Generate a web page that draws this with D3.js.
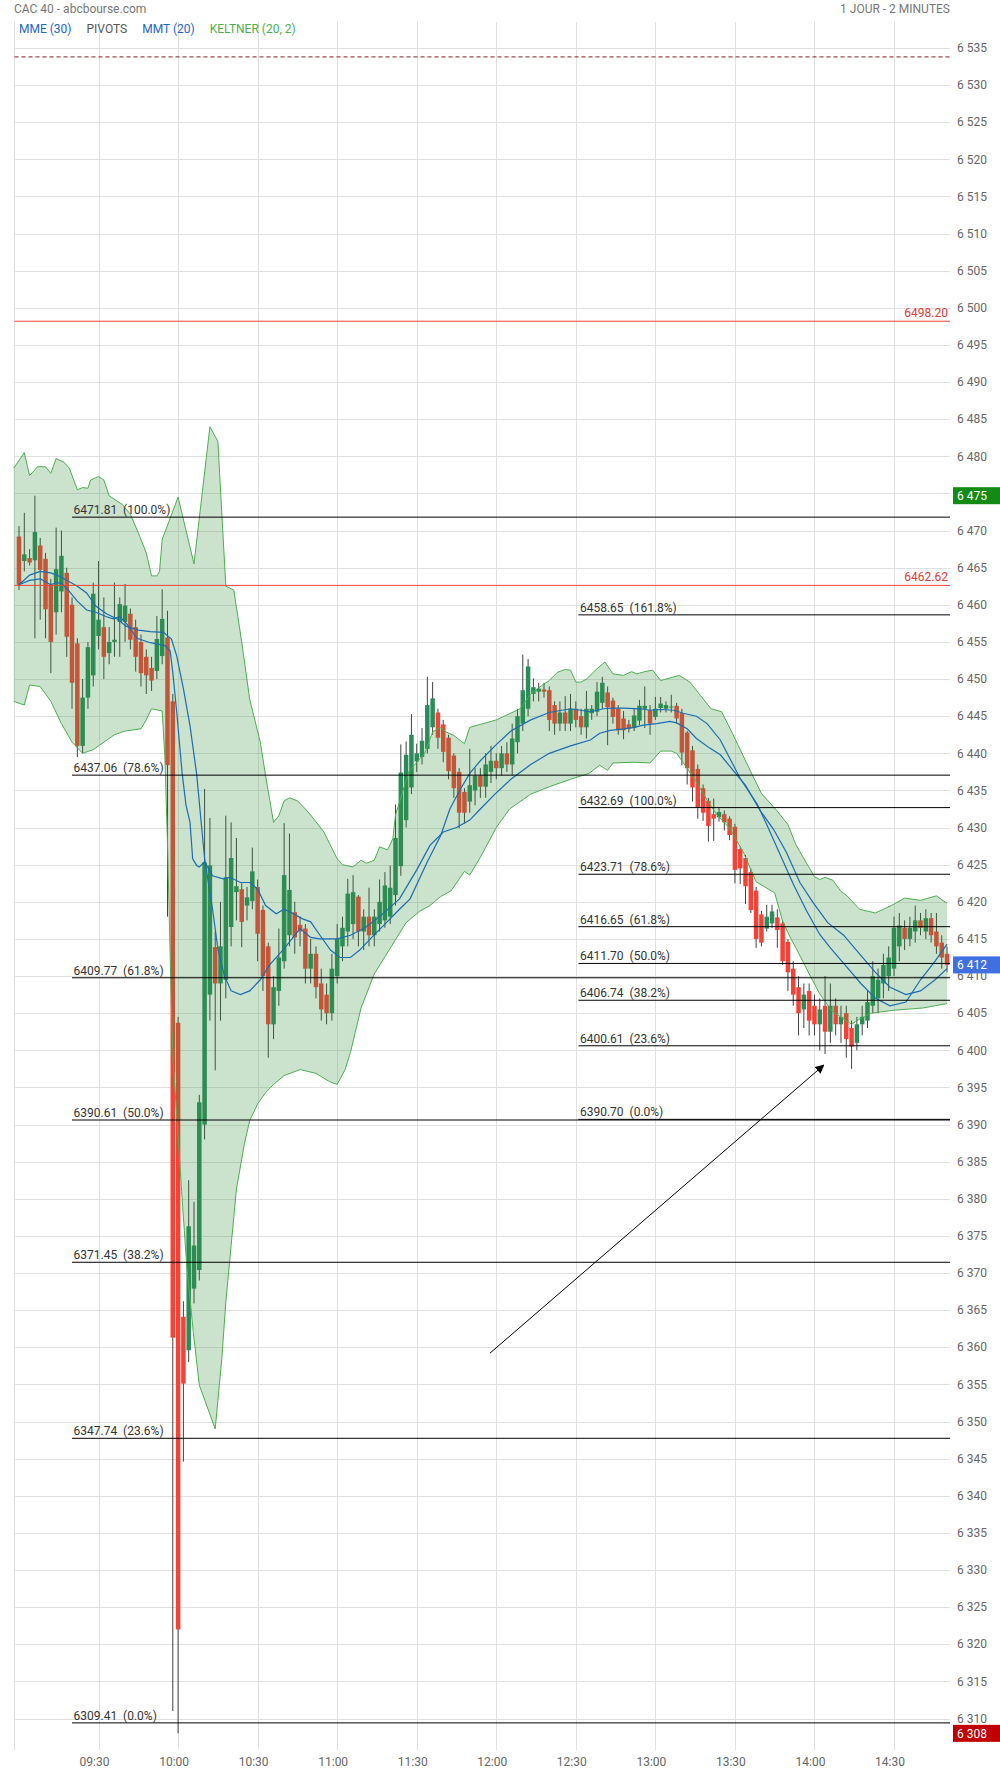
<!DOCTYPE html>
<html><head><meta charset="utf-8">
<script src="https://cdn.jsdelivr.net/npm/d3@7"></script>
<style>
body{margin:0;background:#fff;}
svg{display:block;font-family:Roboto,"Noto Sans",sans-serif;}
</style>
</head><body>
<svg id="c" width="1000" height="1774"></svg>
<script>
// ---------- DATA ----------
const title = "CAC 40 - abcbourse.com";
const period = "1 JOUR - 2 MINUTES";
const legendItems = [["MME (30)","#1e66c8"],["PIVOTS","#555555"],["MMT (20)","#1e66c8"],["KELTNER (20, 2)","#4caf50"]];
const xTickLabels = ["09:30","10:00","10:30","11:00","11:30","12:00","12:30","13:00","13:30","14:00","14:30"];
const yTicks = [6310,6315,6320,6325,6330,6335,6340,6345,6350,6355,6360,6365,6370,6375,6380,6385,6390,6395,6400,6405,6410,6415,6420,6425,6430,6435,6440,6445,6450,6455,6460,6465,6470,6475,6480,6485,6490,6495,6500,6505,6510,6515,6520,6525,6530,6535];

// time, open, high, low, close
const ohlc = [
["09:00",6469.2,6470.6,6462.0,6462.7],["09:02",6465.9,6472.4,6464.5,6466.8],["09:04",6466.3,6467.5,6465.3,6465.7],
["09:06",6466.0,6474.7,6455.5,6469.8],["09:08",6468.0,6469.0,6458.0,6464.7],["09:10",6466.2,6467.0,6455.5,6459.4],
["09:12",6462.7,6463.5,6450.8,6455.0],["09:14",6459.0,6470.4,6456.0,6464.8],["09:16",6461.8,6470.0,6459.0,6466.6],
["09:18",6464.3,6465.0,6453.0,6455.7],["09:20",6460.0,6461.0,6446.0,6449.5],["09:22",6454.8,6455.5,6439.5,6441.0],
["09:24",6441.0,6450.0,6440.0,6447.5],["09:26",6447.5,6455.0,6446.0,6454.3],["09:28",6450.5,6463.0,6449.0,6461.5],
["09:30",6455.8,6465.9,6454.0,6458.0],["09:32",6457.0,6461.0,6450.0,6453.0],["09:34",6453.5,6457.0,6452.0,6455.0],
["09:36",6455.0,6463.0,6453.0,6455.3],["09:38",6457.7,6461.0,6453.0,6460.1],["09:40",6457.7,6462.8,6455.0,6459.9],
["09:42",6458.8,6459.5,6454.0,6455.3],["09:44",6457.0,6458.0,6451.0,6453.0],["09:46",6455.0,6456.0,6449.0,6450.8],
["09:48",6453.0,6454.0,6448.0,6450.5],["09:50",6451.5,6453.0,6448.4,6449.8],["09:52",6451.1,6458.5,6450.0,6455.4],
["09:54",6453.1,6462.1,6452.0,6458.1],["09:56",6455.6,6459.2,6418.0,6438.4],["09:58",6447.0,6448.0,6311.0,6361.3],
["10:00",6403.7,6404.5,6308.0,6322.0],["10:02",6364.1,6366.2,6344.6,6355.1],["10:04",6359.6,6382.5,6358.0,6376.3],
["10:06",6367.9,6379.6,6365.9,6373.7],["10:08",6370.4,6394.0,6369.0,6393.0],["10:10",6390.0,6435.2,6388.0,6425.3],
["10:12",6407.5,6431.3,6404.0,6424.9],["10:14",6413.9,6416.0,6397.3,6409.0],["10:16",6409.0,6420.0,6404.0,6414.0],
["10:18",6409.5,6431.6,6407.0,6423.3],["10:20",6416.6,6430.7,6414.0,6425.9],["10:22",6421.3,6428.6,6417.5,6422.1],
["10:24",6421.7,6422.5,6413.9,6417.3],["10:26",6419.5,6422.0,6417.5,6420.6],["10:28",6420.1,6427.3,6419.0,6424.1],
["10:30",6422.0,6423.0,6412.0,6415.7],["10:32",6418.9,6419.5,6408.0,6410.0],["10:34",6414.0,6414.5,6399.0,6403.5],
["10:36",6403.5,6410.0,6401.5,6408.5],["10:38",6408.0,6416.4,6406.0,6412.5],["10:40",6412.0,6430.6,6411.0,6423.6],
["10:42",6415.5,6429.2,6414.0,6421.6],["10:44",6418.6,6420.0,6413.0,6415.2],["10:46",6416.9,6418.0,6414.0,6416.0],
["10:48",6416.4,6417.0,6409.0,6411.0],["10:50",6411.0,6415.0,6409.0,6413.0],["10:52",6413.0,6414.0,6407.0,6408.5],
["10:54",6409.0,6411.0,6404.0,6405.5],["10:56",6407.5,6409.0,6403.5,6405.0],["10:58",6405.0,6413.0,6404.0,6411.0],
["11:00",6410.0,6417.0,6409.0,6415.0],["11:02",6414.0,6418.0,6412.0,6416.5],["11:04",6416.0,6423.1,6414.0,6421.1],
["11:06",6417.0,6423.6,6415.0,6421.3],["11:08",6420.7,6420.9,6414.0,6416.0],["11:10",6416.0,6419.0,6413.5,6418.0],
["11:12",6418.0,6421.9,6414.0,6415.5],["11:14",6415.5,6419.0,6414.0,6418.0],["11:16",6417.0,6423.0,6416.0,6420.0],
["11:18",6417.5,6424.0,6416.5,6422.2],["11:20",6418.0,6424.9,6417.0,6421.9],["11:22",6420.9,6433.1,6419.5,6428.6],
["11:24",6424.8,6441.2,6423.5,6437.4],["11:26",6431.0,6441.6,6430.0,6439.8],["11:28",6435.4,6445.3,6434.5,6442.5],
["11:30",6438.9,6441.3,6437.5,6440.0],["11:32",6439.5,6443.4,6438.5,6441.7],["11:34",6440.6,6450.3,6440.0,6446.5],
["11:36",6443.5,6449.6,6442.5,6447.4],["11:38",6445.5,6446.0,6440.6,6442.1],["11:40",6443.9,6444.5,6438.8,6440.2],
["11:42",6442.1,6442.5,6436.5,6437.6],["11:44",6439.7,6440.0,6434.0,6435.3],["11:46",6437.5,6438.0,6429.9,6432.0],
["11:48",6434.8,6435.3,6430.5,6432.0],["11:50",6433.5,6440.6,6432.0,6435.7],["11:52",6435.0,6438.0,6433.0,6437.0],
["11:54",6437.0,6438.0,6434.0,6435.5],["11:56",6435.5,6440.0,6434.0,6438.5],["11:58",6437.5,6441.0,6436.0,6439.0],
["12:00",6439.0,6440.0,6436.5,6438.0],["12:02",6438.0,6441.0,6437.0,6440.0],["12:04",6440.0,6441.5,6437.5,6438.5],
["12:06",6438.5,6444.0,6437.0,6442.0],["12:08",6441.5,6446.0,6440.0,6445.0],["12:10",6444.0,6453.3,6443.0,6448.5],
["12:12",6446.0,6452.7,6445.0,6451.7],["12:14",6448.0,6450.1,6447.0,6448.9],["12:16",6448.3,6449.5,6447.0,6448.7],
["12:18",6448.6,6449.5,6447.5,6448.3],["12:20",6448.5,6449.0,6443.0,6444.5],["12:22",6446.5,6447.0,6442.5,6444.0],
["12:24",6444.0,6447.0,6443.0,6445.5],["12:26",6445.5,6447.7,6443.0,6444.0],["12:28",6444.0,6448.0,6443.0,6446.0],
["12:30",6446.0,6447.0,6443.5,6444.5],["12:32",6445.0,6446.0,6442.5,6443.5],["12:34",6443.5,6448.4,6442.0,6446.0],
["12:36",6445.4,6446.5,6444.5,6446.0],["12:38",6445.6,6449.6,6445.0,6448.3],["12:40",6446.8,6450.3,6446.0,6449.5],
["12:42",6448.2,6449.0,6441.1,6446.2],["12:44",6447.1,6447.5,6444.0,6444.9],["12:46",6446.0,6446.5,6442.5,6443.1],
["12:48",6444.7,6445.7,6441.9,6443.1],["12:50",6443.9,6444.5,6442.8,6443.3],["12:52",6443.4,6446.0,6443.0,6445.1],
["12:54",6444.4,6447.2,6443.8,6446.4],["12:56",6446.0,6449.0,6443.4,6446.4],["12:58",6445.8,6446.5,6442.5,6444.0],
["13:00",6444.9,6447.6,6444.5,6446.0],["13:02",6446.1,6447.6,6445.5,6446.7],["13:04",6446.0,6447.0,6445.5,6446.5],
["13:06",6446.2,6447.9,6445.5,6446.3],["13:08",6446.4,6446.8,6444.0,6444.7],["13:10",6445.4,6446.0,6438.4,6440.1],
["13:12",6442.8,6443.0,6435.8,6438.0],["13:14",6440.4,6441.0,6433.5,6435.4],["13:16",6437.9,6438.5,6431.2,6432.7],
["13:18",6435.3,6435.8,6430.9,6432.0],["13:20",6433.6,6434.0,6428.1,6430.2],["13:22",6431.8,6433.9,6428.2,6431.2],
["13:24",6431.4,6432.7,6430.8,6432.1],["13:26",6431.8,6432.3,6429.6,6430.7],["13:28",6431.2,6431.5,6428.3,6429.0],
["13:30",6430.1,6430.5,6422.5,6424.3],["13:32",6427.1,6427.5,6422.4,6424.5],["13:34",6425.9,6426.3,6419.7,6422.1],
["13:36",6424.0,6424.5,6418.5,6418.9],["13:38",6421.5,6422.0,6413.8,6415.0],["13:40",6418.3,6418.8,6414.0,6414.5],
["13:42",6416.4,6419.6,6416.0,6418.0],["13:44",6417.1,6419.6,6416.5,6418.7],["13:46",6417.9,6419.0,6413.8,6416.2],
["13:48",6417.1,6417.5,6411.5,6412.0],["13:50",6414.6,6415.0,6408.0,6410.5],["13:52",6411.0,6412.0,6406.0,6407.5],
["13:54",6408.5,6410.0,6402.0,6405.0],["13:56",6405.5,6409.0,6403.0,6407.5],["13:58",6408.0,6409.0,6402.0,6404.0],
["14:00",6406.0,6407.5,6402.0,6403.5],["14:02",6403.5,6407.0,6400.0,6405.5],["14:04",6406.0,6410.0,6399.5,6402.5],
["14:06",6402.5,6409.0,6401.0,6406.0],["14:08",6406.0,6407.0,6402.0,6403.5],["14:10",6403.5,6406.0,6401.0,6404.5],
["14:12",6405.0,6406.0,6399.0,6401.5],["14:14",6403.0,6404.0,6397.5,6400.5],["14:16",6401.0,6404.5,6400.0,6403.5],
["14:18",6403.5,6406.0,6402.0,6404.5],["14:20",6404.0,6408.0,6403.0,6406.5],["14:22",6406.0,6412.0,6405.0,6410.0],
["14:24",6407.0,6411.0,6405.0,6409.5],["14:26",6409.0,6413.0,6407.0,6411.5],["14:28",6410.0,6414.0,6408.0,6412.5],
["14:30",6411.0,6418.0,6410.0,6416.5],["14:32",6414.0,6418.5,6412.0,6416.8],["14:34",6416.5,6417.5,6413.5,6415.0],
["14:36",6415.0,6418.0,6414.0,6416.5],["14:38",6416.0,6419.5,6414.5,6417.5],["14:40",6417.5,6418.5,6415.5,6416.5],
["14:42",6416.0,6419.0,6415.0,6417.8],["14:44",6417.8,6418.5,6414.5,6415.5],["14:46",6416.0,6418.5,6413.0,6414.0],
["14:48",6414.5,6415.5,6411.0,6412.5],["14:50",6413.0,6414.0,6410.5,6411.5]
];

const kelUpper = [
["08:58",6478.4],["09:02",6480.5],["09:04",6477.4],["09:07",6478.6],["09:10",6478.6],["09:12",6477.7],["09:14",6479.7],
["09:17",6479.2],["09:19",6478.4],["09:22",6475.5],["09:24",6475.8],["09:26",6475.7],["09:27",6476.8],["09:30",6477.3],
["09:32",6476.8],["09:34",6474.7],["09:39",6473.5],["09:42",6472.2],["09:45",6469.7],["09:48",6467.0],["09:50",6463.9],
["09:52",6463.9],["09:53",6464.5],["09:54",6468.8],["10:00",6474.5],["10:06",6465.5],["10:12",6484.0],["10:15",6482.0],
["10:18",6462.5],["10:21",6462.0],["10:24",6455.0],["10:27",6447.3],["10:31",6441.5],["10:33",6437.0],["10:36",6430.7],
["10:38",6431.6],["10:40",6433.6],["10:42",6434.0],["10:45",6433.6],["10:48",6432.5],["10:50",6431.7],["10:55",6429.4],
["11:00",6425.8],["11:02",6425.0],["11:06",6424.7],["11:09",6425.6],["11:11",6425.2],["11:14",6425.6],["11:16",6427.4],
["11:19",6427.0],["11:21",6428.5],["11:22",6431.7],["11:25",6435.2],["11:27",6437.5],["11:30",6438.8],["11:33",6440.0],
["11:36",6442.9],["11:39",6443.5],["11:41",6442.9],["11:44",6442.4],["11:48",6441.3],["11:50",6443.5],["12:00",6444.5],
["12:09",6446.0],["12:13",6448.0],["12:17",6449.1],["12:20",6449.8],["12:23",6450.9],["12:26",6451.3],["12:28",6451.2],
["12:30",6449.6],["12:32",6449.6],["12:34",6450.0],["12:38",6451.4],["12:41",6452.3],["12:44",6450.7],["12:48",6450.5],
["12:51",6451.0],["12:53",6450.7],["12:56",6451.0],["12:59",6451.2],["13:02",6449.8],["13:04",6450.0],["13:09",6450.5],
["13:13",6449.6],["13:17",6447.8],["13:21",6446.0],["13:25",6445.6],["13:30",6442.0],["13:36",6437.5],["13:40",6434.6],
["13:46",6432.2],["13:50",6430.4],["13:53",6427.7],["13:57",6425.2],["14:00",6423.4],["14:02",6423.0],["14:04",6423.3],
["14:07",6422.9],["14:10",6421.4],["14:12",6420.9],["14:17",6419.0],["14:23",6418.5],["14:29",6419.5],["14:34",6420.5],
["14:40",6420.2],["14:46",6420.8],["14:50",6419.8]
];

const kelLower = [
["08:58",6447.0],["09:02",6446.5],["09:04",6449.2],["09:08",6449.0],["09:12",6447.0],["09:16",6444.0],["09:20",6441.5],
["09:24",6440.0],["09:28",6440.5],["09:32",6441.5],["09:36",6442.5],["09:40",6443.0],["09:46",6443.3],["09:48",6444.5],
["09:50",6446.0],["09:54",6445.7],["09:55",6439.7],["09:56",6428.0],["09:57:36",6404.0],["09:58:12",6398.0],
["09:59:30",6391.2],["10:01:20",6381.0],["10:03:15",6371.0],["10:05:45",6362.0],["10:08",6354.9],["10:14",6349.0],
["10:16:30",6358.5],["10:18",6366.1],["10:20",6373.7],["10:22",6381.3],["10:25",6387.4],["10:27",6390.5],["10:30",6392.8],
["10:33",6394.3],["10:36",6395.4],["10:40",6396.6],["10:46",6397.4],["10:52",6396.9],["10:57",6395.8],["11:00",6395.4],
["11:03",6397.4],["11:05",6399.7],["11:09",6405.7],["11:14",6410.3],["11:18",6412.6],["11:22",6414.9],["11:26",6417.2],
["11:31",6418.7],["11:35",6419.5],["11:39",6420.7],["11:43",6421.5],["11:48",6424.1],["11:50",6423.6],["11:54",6426.0],
["12:00",6430.0],["12:05",6432.5],["12:13",6434.5],["12:20",6435.5],["12:28",6436.5],["12:35",6437.3],["12:39",6438.4],
["12:42",6437.7],["12:44",6438.7],["12:52",6438.8],["12:58",6438.7],["13:02",6440.3],["13:06",6440.3],["13:08",6440.0],
["13:12",6438.0],["13:16",6435.8],["13:19:30",6433.7],["13:23",6431.8],["13:28",6429.9],["13:33",6426.8],["13:38",6422.7],
["13:45",6421.2],["13:48",6417.4],["13:51",6415.1],["13:53",6413.8],["13:58",6410.3],["14:02",6407.6],["14:06:30",6405.3],
["14:11",6404.2],["14:14",6403.5],["14:17",6404.2],["14:21:30",6405.0],["14:30",6405.4],["14:41",6405.7],["14:50",6406.3]
];

const mme30 = [
["09:00",6462.7],["09:04",6463.3],["09:08",6463.5],["09:12",6462.7],["09:14",6463.0],["09:16",6462.9],["09:18:30",6462.0],
["09:22",6460.5],["09:25:30",6459.3],["09:29",6459.0],["09:33",6458.4],["09:35:30",6458.1],["09:38",6458.4],["09:40:30",6457.5],
["09:44:30",6455.5],["09:49:30",6454.9],["09:55",6454.5],["09:57",6453.8],["09:58",6450.9],["09:59:30",6445.5],
["10:01:30",6437.4],["10:03",6433.0],["10:04:30",6430.7],["10:05:30",6425.8],["10:07",6424.9],["10:08",6424.7],
["10:10",6425.4],["10:13",6423.5],["10:17",6423.1],["10:19:30",6423.3],["10:23:30",6422.6],["10:27",6422.6],["10:30",6421.7],
["10:33",6419.5],["10:37",6418.4],["10:40",6419.0],["10:43:30",6418.4],["10:47",6417.7],["10:50",6417.3],["10:53:30",6415.5],
["10:57:30",6413.5],["11:01",6412.5],["11:05",6412.5],["11:08:30",6413.5],["11:12:30",6415.0],["11:18",6417.0],
["11:23:30",6419.0],["11:27:30",6420.4],["11:34",6425.4],["11:39",6428.9],["11:42:30",6432.5],["11:46:30",6435.2],
["11:50",6437.3],["11:54",6439.0],["11:59:30",6441.0],["12:05:30",6443.0],["12:13",6444.5],["12:20",6445.5],["12:28",6446.0],
["12:35:30",6445.6],["12:40:30",6446.0],["12:44",6446.1],["12:48",6446.1],["12:54",6446.0],["12:58",6445.8],["13:02",6445.9],
["13:07",6445.8],["13:10:30",6445.4],["13:15:30",6445.0],["13:19:30",6444.0],["13:24:30",6441.8],["13:32",6436.6],
["13:38:30",6433.1],["13:42",6430.4],["13:47",6426.4],["13:52",6422.4],["13:57",6418.8],["14:02",6415.6],["14:06",6413.8],
["14:11:30",6411.5],["14:17:30",6409.0],["14:23",6407.0],["14:28:30",6406.0],["14:34:30",6406.5],["14:40",6409.5],
["14:45:30",6412.0],["14:50",6414.3]
];

const mmt20 = [
["09:00",6462.7],["09:04",6464.0],["09:08",6464.5],["09:12",6464.3],["09:15:30",6463.8],["09:18:30",6463.2],["09:22",6462.5],
["09:25:30",6461.6],["09:29",6459.8],["09:33",6458.8],["09:37",6458.1],["09:40:30",6457.1],["09:45",6456.6],["09:49:30",6456.4],
["09:54:30",6456.3],["09:57:30",6455.4],["09:59:30",6453.1],["10:02",6448.7],["10:04:30",6443.7],["10:07",6437.2],
["10:10",6425.8],["10:13",6419.0],["10:15",6413.7],["10:17:30",6410.0],["10:20",6408.0],["10:23:30",6407.5],["10:27",6408.0],
["10:31",6409.5],["10:34:30",6411.5],["10:40",6413.7],["10:46",6416.4],["10:50",6415.2],["10:53:30",6415.0],["11:00",6415.0],
["11:05",6415.5],["11:10:30",6416.5],["11:16",6418.0],["11:23:30",6420.4],["11:30",6424.3],["11:35",6427.6],["11:40",6429.4],
["11:45",6430.0],["11:50",6431.0],["11:54",6432.5],["11:59:30",6434.5],["12:05:30",6436.5],["12:13",6438.5],["12:20",6440.0],
["12:28",6441.0],["12:35:30",6441.8],["12:39",6442.7],["12:43",6443.1],["12:48",6443.3],["12:52",6443.5],["12:55:30",6443.8],
["13:00:30",6444.0],["13:05:30",6444.3],["13:08",6444.1],["13:12",6443.3],["13:15:30",6442.0],["13:20:30",6440.7],
["13:24:30",6439.8],["13:34",6435.7],["13:39:30",6432.3],["13:44:30",6429.8],["13:49:30",6426.6],["13:54:30",6422.6],
["13:59:30",6419.9],["14:05",6417.2],["14:11",6415.5],["14:17",6413.0],["14:23",6410.5],["14:28:30",6408.5],["14:34:30",6407.5],
["14:40",6408.0],["14:45:30",6409.5],["14:50",6411.0]
];

const pivotLevels = [6498.20, 6462.62];
const pivotDashed = [6533.8];
const fibLeftStart = "09:20";
const fibLeft = [[6471.81,"100.0%"],[6437.06,"78.6%"],[6409.77,"61.8%"],[6390.61,"50.0%"],[6371.45,"38.2%"],[6347.74,"23.6%"],[6309.41,"0.0%"]];
const fibRightStart = "12:31";
const fibRight = [[6458.65,"161.8%"],[6432.69,"100.0%"],[6423.71,"78.6%"],[6416.65,"61.8%"],[6411.70,"50.0%"],[6406.74,"38.2%"],[6400.61,"23.6%"],[6390.70,"0.0%"]];
const arrowFrom = ["11:57:36", 6359.2];
const arrowTo = ["14:03:30", 6398.0];

// ---------- DRAW ----------
const svg = d3.select("#c");
const P = {left:14.5, right:950, top:21.7, bottom:1750};
const parseHMS = d3.timeParse("%H:%M:%S");
const pt = s => parseHMS(s.length === 5 ? s + ":00" : s);
const x = d3.scaleTime().domain([pt("09:00"), pt("14:30")]).range([19.0, 894.0]);
const y = d3.scaleLinear().domain([6310, 6535]).range([1718.5, 48.0]);
const fmt = d3.formatLocale({decimal:",", thousands:" ", grouping:[3], currency:["",""]}).format(",d");

svg.append("rect").attr("width",1000).attr("height",1774).attr("fill","#fff");

// grid
const grid = svg.append("g").attr("shape-rendering","crispEdges");
grid.selectAll("line.h").data(yTicks).join("line")
  .attr("x1",P.left).attr("x2",P.right).attr("y1",d=>Math.round(y(d))+0.5).attr("y2",d=>Math.round(y(d))+0.5)
  .attr("stroke","#e0e0e0");
grid.selectAll("line.v").data(xTickLabels).join("line")
  .attr("x1",d=>Math.round(x(pt(d)))+0.5).attr("x2",d=>Math.round(x(pt(d)))+0.5).attr("y1",P.top).attr("y2",P.bottom)
  .attr("stroke","#e0e0e0");
grid.append("line").attr("x1",P.left).attr("x2",P.left).attr("y1",P.top).attr("y2",P.bottom).attr("stroke","#e0e0e0");

// candles
const bw = 4.5;
const cg = svg.append("g");
cg.selectAll("line").data(ohlc).join("line")
  .attr("x1",d=>x(pt(d[0]))).attr("x2",d=>x(pt(d[0])))
  .attr("y1",d=>y(d[2])).attr("y2",d=>y(d[3]))
  .attr("stroke","#404040").attr("stroke-width",1);
cg.selectAll("rect").data(ohlc).join("rect")
  .attr("x",d=>x(pt(d[0]))-bw/2).attr("width",bw)
  .attr("y",d=>y(Math.max(d[1],d[4])))
  .attr("height",d=>Math.max(1,Math.abs(y(d[1])-y(d[4]))))
  .attr("fill",d=>d[4]>=d[1] ? "#2b8c5a" : "#f44336");

// keltner band (drawn over candles, translucent)
const line = d3.line().x(d=>x(pt(d[0]))).y(d=>y(d[1]));
svg.append("path").attr("d", line(kelUpper.concat(kelLower.slice().reverse())) + "Z")
  .attr("fill","rgba(56,142,60,0.26)").attr("stroke","none");
[kelUpper, kelLower].forEach(s => svg.append("path").attr("d", line(s))
  .attr("fill","none").attr("stroke","#4caf50").attr("stroke-width",1));

// moving averages
[mme30, mmt20].forEach(s => svg.append("path").attr("d", line(s))
  .attr("fill","none").attr("stroke","#1a6cb5").attr("stroke-width",1.2));

// pivots
svg.selectAll("line.pd").data(pivotDashed).join("line")
  .attr("x1",P.left).attr("x2",P.right).attr("y1",d=>y(d)).attr("y2",d=>y(d))
  .attr("stroke","#8b1a1a").attr("stroke-dasharray","4,3").attr("stroke-width",1);
svg.selectAll("line.pv").data(pivotLevels).join("line")
  .attr("x1",P.left).attr("x2",P.right).attr("y1",d=>y(d)).attr("y2",d=>y(d))
  .attr("stroke","#f44336").attr("stroke-width",1);
svg.selectAll("text.pv").data(pivotLevels).join("text")
  .attr("x",P.right-2).attr("y",d=>y(d)-4).attr("text-anchor","end")
  .attr("font-size",12).attr("fill","#e53935").text(d=>d.toFixed(2));

// fibonacci
function fib(set, start) {
  const x0 = x(pt(start));
  const g = svg.append("g");
  g.selectAll("line").data(set).join("line")
    .attr("x1",x0).attr("x2",P.right).attr("y1",d=>y(d[0])).attr("y2",d=>y(d[0]))
    .attr("stroke","#000").attr("stroke-width",1);
  g.selectAll("text").data(set).join("text")
    .attr("x",x0+1.5).attr("y",d=>y(d[0])-3)
    .attr("font-size",12).attr("fill","#333")
    .text(d=>d[0].toFixed(2)+"\u00a0\u00a0("+d[1]+")");
}
fib(fibLeft, fibLeftStart);
fib(fibRight, fibRightStart);

// arrow
svg.append("defs").append("marker").attr("id","ah").attr("viewBox","0 0 10 10")
  .attr("refX",9).attr("refY",5).attr("markerWidth",9).attr("markerHeight",9)
  .attr("markerUnits","userSpaceOnUse").attr("orient","auto")
  .append("path").attr("d","M0,0 L10,5 L0,10 z").attr("fill","#000");
svg.append("line")
  .attr("x1",x(pt(arrowFrom[0]))).attr("y1",y(arrowFrom[1]))
  .attr("x2",x(pt(arrowTo[0]))).attr("y2",y(arrowTo[1]))
  .attr("stroke","#000").attr("stroke-width",1).attr("marker-end","url(#ah)");

// axes labels
svg.selectAll("text.yl").data(yTicks).join("text")
  .attr("x",957).attr("y",d=>y(d)).attr("dy","0.35em")
  .attr("font-size",12).attr("fill","#666").text(d=>fmt(d));
svg.selectAll("text.xl").data(xTickLabels).join("text")
  .attr("x",d=>x(pt(d))-4).attr("y",1762).attr("dy","0.35em").attr("text-anchor","middle")
  .attr("font-size",12).attr("fill","#666").text(d=>d);

// value boxes: high, low, last
const hi = d3.max(ohlc, d=>d[2]), lo = d3.min(ohlc, d=>d[3]), last = ohlc[ohlc.length-1][4];
[[hi,"#138a13"],[last,"#3f6fe0"],[lo,"#c00000"]].forEach(([v,c]) => {
  const yy = y(v);
  svg.append("rect").attr("x",953).attr("y",yy-8.5).attr("width",47).attr("height",17).attr("fill",c);
  svg.append("text").attr("x",957).attr("y",yy).attr("dy","0.35em").attr("font-size",12)
    .attr("fill","#fff").text(fmt(Math.round(v)));
});

// header & legend
svg.append("text").attr("x",14).attr("y",12.5).attr("font-size",12).attr("fill","#777").text(title);
svg.append("text").attr("x",950).attr("y",12.5).attr("text-anchor","end").attr("font-size",12).attr("fill","#777").text(period);
const lg = svg.append("text").attr("x",19).attr("y",33).attr("font-size",12);
legendItems.forEach(([t,c],i) => lg.append("tspan").attr("dx", i ? 15 : 0).attr("fill",c).text(t));
</script>
</body></html>
